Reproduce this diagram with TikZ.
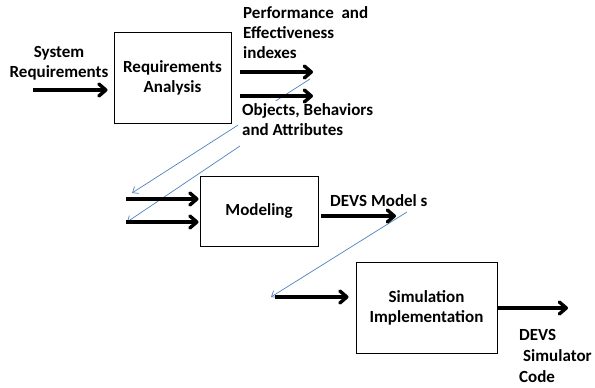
\documentclass[tikz,border=0pt]{standalone}
\usepackage{fontspec}
\setmainfont{Carlito}
\usetikzlibrary{arrows.meta}
\definecolor{linkblue}{RGB}{79,129,189}

\tikzset{
  txt/.style={font=\bfseries\fontsize{17}{20}\selectfont},
  procbox/.style={txt, draw, line width=0.9pt, align=center},
  lbl/.style={txt, align=left, anchor=west, inner sep=1pt},
  flow/.style={line width=3.4pt, -{Straight Barb[length=7pt,width=12pt,round]}},
  link/.style={draw=linkblue, line width=0.7pt, -{Straight Barb[length=5pt,width=8pt]}},
}

\begin{document}
\begin{tikzpicture}[x=1pt,y=-1pt]
\useasboundingbox (0,0) rectangle (595,388);
% free ends of the arrows
\coordinate (sysin) at (33,90);
\coordinate (perfout) at (313,72);
\coordinate (objout) at (313,96);
\coordinate (objin) at (126,199);
\coordinate (perfin) at (126,222);
\coordinate (devsout) at (396,216);
\coordinate (devsin) at (275,297);
\coordinate (codeout) at (568,308);
% blue hand-over lines
\coordinate (objtail) at (310,79);
\coordinate (objhead) at (132,193);
\coordinate (perftail) at (240,146);
\coordinate (perfhead) at (127,222);
\coordinate (devstail) at (407,212);
\coordinate (devshead) at (271,297);
\draw[link] (objtail) -- (objhead);
\draw[link] (perftail) -- (perfhead);
\draw[link] (devstail) -- (devshead);
% boxes
\node[procbox, minimum width=117pt, minimum height=91pt] (reqbox) at (172.5,77.5) {Requirements\\Analysis};
\node[procbox, minimum width=118pt, minimum height=70pt] (modbox) at (259,211) {Modeling};
\node[procbox, minimum width=141pt, minimum height=91pt] (simbox) at (426.5,307.5) {Simulation\\Implementation};
% labels
\node[txt, align=center] (syslbl) at (59,63) {System\\Requirements};
\node[lbl] (perflbl) at (242,33) {Performance~~and\\Effectiveness\\indexes};
\node[lbl, fill=white, inner xsep=4pt, inner ysep=3pt] (objlbl) at (238,120) {Objects, Behaviors\\and Attributes};
\node[lbl] (devslbl) at (329,201) {DEVS Model s};
\node[lbl, font=\bfseries\fontsize{17}{21}\selectfont] (codelbl) at (518,356) {DEVS\\\hspace*{4pt}Simulator\\Code};
% flows
\draw[flow, shorten >=6pt] (sysin) -- (sysin -| reqbox.west);
\draw[flow, shorten <=9pt] (perfout -| reqbox.east) -- (perfout);
\draw[flow, shorten <=9pt] (objout -| reqbox.east) -- (objout);
\draw[flow, shorten >=1pt] (objin) -- (objin -| modbox.west);
\draw[flow, shorten >=1pt] (perfin) -- (perfin -| modbox.west);
\draw[flow, shorten <=3pt] (devsout -| modbox.east) -- (devsout);
\draw[flow, shorten >=7pt] (devsin) -- (devsin -| simbox.west);
\draw[flow] (codeout -| simbox.east) -- (codeout);
\end{tikzpicture}
\end{document}
